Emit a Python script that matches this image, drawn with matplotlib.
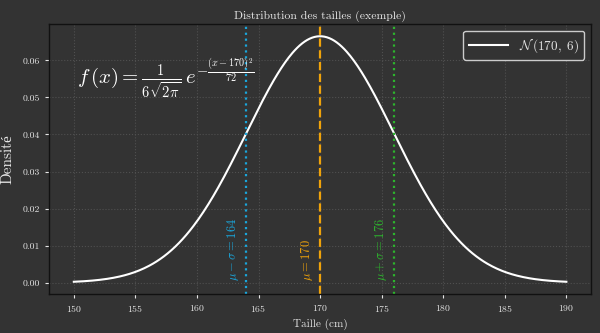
import numpy as np
import matplotlib
matplotlib.use("Agg")
import matplotlib.pyplot as plt

# Paramètres de la loi normale
mu = 170
sigma = 6
x_min, x_max = 150, 190
n_points = 400

plt.rcParams['font.family'] = ['cmr10', 'Liberation Serif']
plt.rcParams['mathtext.fontset'] = 'cm'
plt.rcParams['axes.formatter.use_mathtext'] = True

bg = '#333333'
fg = '#e6e6e6'

x = np.linspace(x_min, x_max, n_points)
y = 1 / (sigma * np.sqrt(2 * np.pi)) * np.exp(-(x - mu) ** 2 / (2 * sigma ** 2))

fig = plt.figure(figsize=(6, 3.33), dpi=100, facecolor=bg)
ax = fig.add_axes([0.082, 0.117, 0.903, 0.811], facecolor=bg)

ax.plot(x, y, color='white', lw=1.5, label=r'$\mathcal{N}\,(170,\ 6)$')

# Droites verticales : moyenne et +/- un écart-type
ax.axvline(mu - sigma, color='#1aa6db', ls=':', lw=1.6)
ax.axvline(mu, color='#f0a30a', ls='--', lw=1.6)
ax.axvline(mu + sigma, color='#2db52d', ls=':', lw=1.6)

ax.text(mu - sigma - 0.4, 0.0005, r'$\mu - \sigma = %d$' % (mu - sigma), rotation=90,
        color='#1aa6db', fontsize=9, ha='right', va='bottom')
ax.text(mu - 0.4, 0.0005, r'$\mu = %d$' % mu, rotation=90,
        color='#f0a30a', fontsize=9, ha='right', va='bottom')
ax.text(mu + sigma - 0.4, 0.0005, r'$\mu + \sigma = %d$' % (mu + sigma), rotation=90,
        color='#2db52d', fontsize=9, ha='right', va='bottom')

ax.text(0.052, 0.80, r'$f\,(x) = \frac{1}{6\sqrt{2\pi}}\,e^{-\frac{(x-170)^2}{72}}$',
        transform=ax.transAxes, color='white', fontsize=15, va='center')

ax.set_title('Distribution des tailles (exemple)', color=fg, fontsize=8.5, pad=4)
ax.set_xlabel('Taille (cm)', color=fg, fontsize=8, labelpad=3)
ax.set_ylabel('Densité', color=fg, fontsize=11, labelpad=6)

ax.set_xticks(np.arange(150, 191, 5))
ax.set_yticks(np.arange(0, 0.061, 0.01))
ax.yaxis.set_major_formatter(matplotlib.ticker.FormatStrFormatter('%.2f'))
ax.tick_params(colors=fg, labelsize=7, length=3)
ax.grid(True, color='#505050', ls=':', lw=0.8)
for s in ax.spines.values():
    s.set_color('#111111')
    s.set_linewidth(1.0)

leg = ax.legend(loc='upper right', fontsize=9.5, facecolor=bg, edgecolor='#cccccc',
                framealpha=1, handlelength=3)
for t in leg.get_texts():
    t.set_color(fg)

fig.savefig('out.png', dpi=100, facecolor=bg)
